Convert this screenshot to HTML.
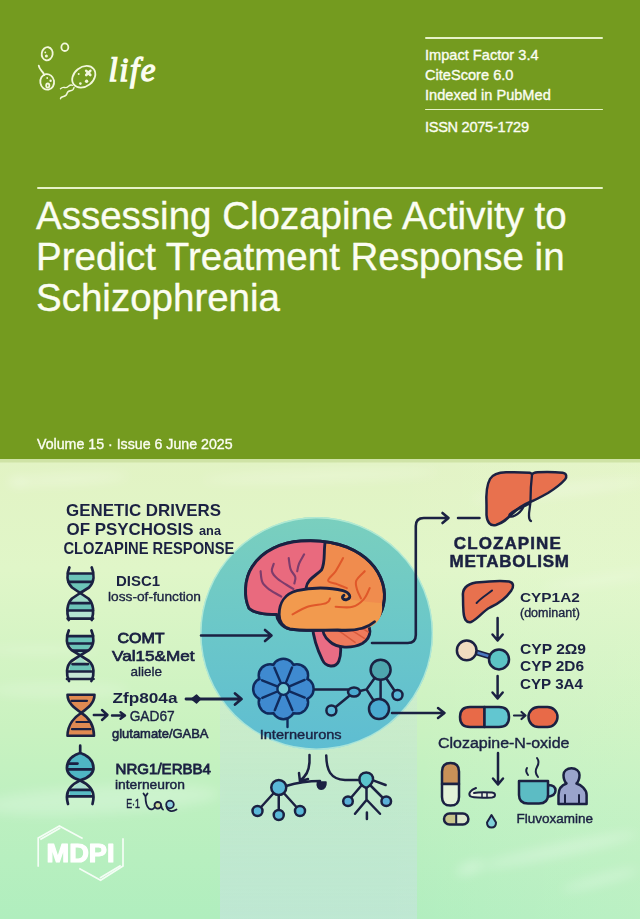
<!DOCTYPE html>
<html><head><meta charset="utf-8">
<style>
html,body{margin:0;padding:0;}
body{width:640px;height:919px;overflow:hidden;position:relative;font-family:"Liberation Sans",sans-serif;background:#dff0c8;}
.hdr{position:absolute;left:0;top:0;width:640px;height:459px;background:#749b1f;}
.t{position:absolute;white-space:nowrap;line-height:1;}
.w{color:#fbfdf2;-webkit-text-stroke:0.35px #fbfdf2;}
.rule{position:absolute;height:1.8px;background:#e6f2c8;border-radius:1px;}
svg{position:absolute;left:0;top:0;}
</style></head>
<body>
<div class="hdr"></div>
<svg width="640" height="919" viewBox="0 0 640 919" style="font-family:'Liberation Sans',sans-serif">
<defs>
<linearGradient id="bg" x1="0" y1="0" x2="0" y2="1">
<stop offset="0" stop-color="#e2f3c4"/>
<stop offset="0.24" stop-color="#e0f6c8"/>
<stop offset="0.59" stop-color="#c9f2c0"/>
<stop offset="0.74" stop-color="#bef0c0"/>
<stop offset="1" stop-color="#b0eebe"/>
</linearGradient>
<linearGradient id="bgh" x1="0" y1="0" x2="1" y2="0">
<stop offset="0" stop-color="#fff" stop-opacity="0"/>
<stop offset="0.6" stop-color="#fff" stop-opacity="0"/>
<stop offset="1" stop-color="#f4ffe0" stop-opacity="0.15"/>
</linearGradient>
<linearGradient id="circ" x1="0" y1="0" x2="0" y2="1">
<stop offset="0" stop-color="#7acfbe"/>
<stop offset="0.45" stop-color="#6cc8c8"/>
<stop offset="1" stop-color="#5ebdd2"/>
</linearGradient>
<filter id="blur3" x="-20%" y="-50%" width="140%" height="200%"><feGaussianBlur stdDeviation="3"/></filter>
<filter id="blur6" x="-20%" y="-50%" width="140%" height="200%"><feGaussianBlur stdDeviation="6"/></filter>
<linearGradient id="band" x1="0" y1="0" x2="0" y2="1">
<stop offset="0" stop-color="#c8dce8" stop-opacity="0.2"/>
<stop offset="0.5" stop-color="#c8dce8" stop-opacity="0.3"/>
<stop offset="1" stop-color="#d0e0ec" stop-opacity="0.45"/>
</linearGradient>
</defs>
<rect x="0" y="459" width="640" height="460" fill="url(#bg)"/>
<rect x="0" y="459" width="640" height="460" fill="url(#bgh)"/>
<rect x="0" y="459" width="640" height="3.5" fill="#cfe3a6"/>
<g fill="#ffffff" filter="url(#blur6)" opacity="0.8">
<ellipse cx="70" cy="479" rx="60" ry="5" opacity="0.35" transform="rotate(-3 70 479)"/>
<ellipse cx="18" cy="482" rx="10" ry="3" opacity="0.6"/>
<ellipse cx="320" cy="476" rx="120" ry="6" opacity="0.3" transform="rotate(-2 320 476)"/>
<ellipse cx="560" cy="490" rx="90" ry="5" opacity="0.35" transform="rotate(-6 560 490)"/>
<ellipse cx="600" cy="580" rx="60" ry="4" opacity="0.3" transform="rotate(-8 600 580)"/>
<ellipse cx="40" cy="650" rx="60" ry="4" opacity="0.25"/>
<ellipse cx="100" cy="800" rx="120" ry="14" opacity="0.28" transform="rotate(-3 100 800)"/>
<ellipse cx="60" cy="690" rx="70" ry="8" opacity="0.22"/>
<ellipse cx="560" cy="850" rx="80" ry="6" opacity="0.35" transform="rotate(-12 560 850)"/>
<ellipse cx="600" cy="880" rx="40" ry="4" opacity="0.4" transform="rotate(-15 600 880)"/>
<ellipse cx="470" cy="868" rx="14" ry="5" opacity="0.45" transform="rotate(-20 470 868)"/>
</g>
<rect x="220" y="640" width="197" height="279" fill="url(#band)"/>
<circle cx="316.6" cy="633.4" r="116.3" fill="url(#circ)"/>
<circle cx="316.6" cy="633.4" r="115.7" fill="none" stroke="#c8f4dc" stroke-width="1.4" opacity="0.7"/>
<g id="brain" stroke="#1b2142" stroke-linecap="round" stroke-linejoin="round" transform="translate(246 541) scale(1.02 1.035) translate(-246 -541)">
<path d="M311,622C312,636 317,648 321,656C324,663 334,664 337,657C340,650 339,640 337,630Z" fill="#e96c84" stroke-width="2.8"/>
<path d="M322,622C326,616 345,614 360,618C370,622 370,634 360,640C350,645 335,645 328,638C323,634 320,628 322,622Z" fill="#ef7a5c" stroke-width="2.8"/>
<path d="M333,625L353,639M340,621L362,635M349,619L366,629" fill="none" stroke="#d85a3c" stroke-width="1.4"/>
<path d="M249,606C244,596 244,578 252,566C262,550 282,542 300,541C315,540 330,541 345,547C362,554 375,566 380,582C384,596 381,610 372,619C364,626 350,628 336,627C320,627 300,628 289,626C280,624 276,616 276,612C265,612 254,611 249,606Z" fill="#f08c4e" stroke-width="2.8"/>
<path d="M249,606C244,596 244,578 252,566C262,550 282,542 300,541C310,540.5 318,541 323.5,542.5C322,552 324,562 320,569C314,575 306,578 305,586L305,591C296,592 284,596 280,611C266,612 254,611 249,606Z" fill="#e96a7e" stroke="none"/>
<path d="M323.5,542.5C322,552 324,562 320,569C314,575 306,578 305,586L305,589" fill="none" stroke-width="2.8"/>
<path d="M276,612C265,612 254,611 249,606C244,596 244,578 252,566C262,550 282,542 300,541C315,540 330,541 345,547C362,554 375,566 380,582C384,596 381,610 372,619" fill="none" stroke-width="2.8"/>
<path d="M279,615C277,603 283,592 296,589C310,585.5 328,585.5 341,589C347,591 349,596 344,597C352,598 366,600 379,601C381,611 377,620 368,624C355,628 335,627 320,627C305,628 292,628 286,625C282,623 279,619 279,615Z" fill="#f29a4e" stroke="none"/>
<path d="M372,619C364,626 350,628 336,627C320,627 300,628 289,626C282,624 278.5,619 278.5,612C278.5,601 284,592 296,589C310,585.5 328,585.5 341,589C348,591 350,596 345,597.5C341,598.5 339,595 342,593.5" fill="none" stroke-width="2.8"/>
<path d="M260.3,570.2C260.6,572.0 260.6,578.1 262.2,581.1C263.7,584.1 266.5,586.1 269.5,588.3C272.6,590.6 278.7,593.6 280.6,594.7M273.2,563.0C272.9,564.2 270.8,567.8 271.4,570.2C272.0,572.6 274.1,575.1 276.9,577.5C279.6,579.9 285.3,583.1 287.9,584.7C290.5,586.4 291.7,587.0 292.5,587.4M287.9,557.5C288.2,559.4 288.7,565.4 289.8,568.4C290.8,571.4 293.7,573.4 294.3,575.7C295.0,577.9 293.6,580.9 293.4,582.0M303.0,553.9C302.2,555.4 299.2,560.3 298.0,563.0C296.9,565.7 296.5,569.0 296.2,570.2" fill="none" stroke="#7e3c6c" stroke-width="2.1"/>
<path d="M341.2,557.5C340.0,559.7 336.3,566.6 333.9,570.2C331.4,573.9 326.2,577.2 326.5,579.3C326.8,581.4 332.6,581.7 335.7,582.9C338.8,584.1 343.4,585.9 344.9,586.5M362.4,570.2C361.0,571.7 355.3,576.3 354.1,579.3C352.9,582.3 354.2,585.5 355.0,588.3C355.8,591.2 358.1,595.1 358.7,596.5M291.6,611.9C294.0,610.7 300.8,606.5 306.3,604.6C311.8,602.8 321.0,602.4 324.7,601.0C328.4,599.7 327.7,597.2 328.4,596.5M333.9,604.6C336.6,604.6 345.8,605.9 350.4,604.6C355.0,603.4 358.6,600.4 361.4,597.4C364.3,594.4 366.3,588.3 367.3,586.5" fill="none" stroke="#e0582a" stroke-width="2"/>
</g>
<g id="flower" stroke="#102a5c" stroke-width="2.4" stroke-linecap="round" stroke-linejoin="round">
<path d="M287.5,718V727" fill="none"/>
<g fill="#3f8ad0" stroke-width="5"><circle cx="302.40" cy="688.90" r="10"/><circle cx="296.84" cy="702.34" r="10"/><circle cx="283.40" cy="707.90" r="10"/><circle cx="269.96" cy="702.34" r="10"/><circle cx="264.40" cy="688.90" r="10"/><circle cx="269.96" cy="675.46" r="10"/><circle cx="283.40" cy="669.90" r="10"/><circle cx="296.84" cy="675.46" r="10"/></g>
<g fill="#3f8ad0" stroke="none"><circle cx="302.40" cy="688.90" r="10"/><circle cx="296.84" cy="702.34" r="10"/><circle cx="283.40" cy="707.90" r="10"/><circle cx="269.96" cy="702.34" r="10"/><circle cx="264.40" cy="688.90" r="10"/><circle cx="269.96" cy="675.46" r="10"/><circle cx="283.40" cy="669.90" r="10"/><circle cx="296.84" cy="675.46" r="10"/><circle cx="283.4" cy="688.9" r="18"/></g>
<path d="M288.96,691.15L304.73,697.52 M285.74,694.42L292.39,710.07 M281.15,694.46L274.78,710.23 M277.88,691.24L262.23,697.89 M277.84,686.65L262.07,680.28 M281.06,683.38L274.41,667.73 M285.65,683.34L292.02,667.57 M288.92,686.56L304.57,679.91" fill="none"/>
<circle cx="283.4" cy="688.9" r="6" fill="#74cad4"/>
</g>
<g id="network" stroke="#1b2142" stroke-width="2.5" stroke-linecap="round" stroke-linejoin="round" fill="none">
<path d="M315,689.5H348M331.4,710.5L354,692M360,691L366.5,689.4L380.6,669.7M366.5,689.4L379,709M380.6,669.7V709M386,678L397.5,695"/>
<ellipse cx="354" cy="692" rx="6" ry="4.5" fill="#4aaad0"/>
<circle cx="331.4" cy="710.5" r="5" fill="#5ab8d8"/>
<circle cx="397.5" cy="695" r="5" fill="#5ab8d8"/>
<circle cx="380.6" cy="669.7" r="10" fill="#4ea6ae"/>
<circle cx="379" cy="709" r="10" fill="#4aaad0"/>
</g>
<g id="trees" stroke="#1b2142" stroke-width="2.5" stroke-linecap="round" stroke-linejoin="round" fill="none">
<path d="M309.5,755C310,764 309,772 304,777L300,781M299,773L300,781.5L308,779"/>
<path d="M286,786C296,783 308,781 320,781"/>
<path d="M317.5,782H326C326.5,786.5 324,789.3 321.2,789.3C318.2,789.3 316.5,786 317.5,782Z" fill="#1b2142" stroke-width="1.5"/>
<path d="M278.75,787.5L257.5,811M278.75,787.5V815M278.75,787.5L300,811"/>
<circle cx="278.75" cy="787.5" r="7.5" fill="#5ab8d8"/>
<circle cx="257.5" cy="811" r="5" fill="#5ab8d8"/>
<circle cx="278.75" cy="815" r="5" fill="#5ab8d8"/>
<circle cx="300" cy="811" r="5" fill="#5ab8d8"/>
<path d="M326.25,755.6C326.5,770 330,779 345,780H359"/>
<path d="M373.75,780.6L385.6,785M361,786L348,801.25M371,786L386.25,801.25M366.5,786V800L355,813.75M366.9,800L380,813.75M366.9,812.5V819"/>
<path d="M366.25,772.5C371,772.5 373.5,776 373,780C372,784 368,787 366.25,788C364,787 359.5,784 359.5,780C359,776 361.5,772.5 366.25,772.5Z" fill="#5ac4cc"/>
<circle cx="348" cy="801.25" r="4.8" fill="#5ab0d8"/>
<circle cx="386.25" cy="801.25" r="4.8" fill="#5ab0d8"/>
</g>
<g id="meta" stroke="#1b2142" stroke-width="2.5" stroke-linecap="round" stroke-linejoin="round">
<!-- big liver -->
<path d="M486.5,505C486,495 486,486 490,479C493,474 499,472.5 506,472.3C515,472 524,472.3 529.7,472.8Q532,473.5 532,474.5Q533,472.5 537.5,472.2C546,471.8 556,472 562.5,472.8C567,473.5 567,477 565,479.5C561,484 556,488 548,493C540,497.5 534,500.5 530,502C524,504.5 518,508 512,514C507,519 503,523 496,525C490,526.5 487,522 486.5,515Z" fill="#e8714e"/>
<path d="M532,475C531,483 530.5,492 530.5,500C530.5,507 528.5,512 529,516C529,519 530,520.5 531,521M528,504.5C522,507 514,510 510,514C508,516.5 511,517.5 515,515.5C519,513.5 522,510 524,506" fill="none" stroke-width="2.3"/>
<!-- small liver -->
<path d="M463,597C462,589 467,584 476,582.5C490,581 503,580.5 509,581.5C514,582.5 514,587 511,591C506,598 498,604 490,607.5C483,611 478,619 471,622C466,623 464,619 463.5,612C463,606 463,602 463,597Z" fill="#e8714e"/>
<path d="M476.6,603C482,597 488,594 492,590.5" fill="none" stroke-width="2"/>
<!-- arrows down -->
<path d="M497.6,618V640M492.5,634.5L497.6,640.5L502.7,634.5M497.6,676V698M492.5,692.5L497.6,698.5L502.7,692.5M498,753V784M493,778.5L498,784.5L503,778.5" fill="none"/>
<!-- two circles -->
<path d="M475,652L490,656.5" stroke-width="6"/>
<path d="M475,652L490,656.5" stroke="#4a78c0" stroke-width="2.5"/>
<circle cx="466.7" cy="650.4" r="9.8" fill="#f0dcc0"/>
<circle cx="499" cy="659.4" r="10" fill="#5cc4c4"/>
<!-- pill 1 -->
<path d="M484.5,707H470Q460,707 460,717Q460,727 470,727H484.5Z" fill="#e86a48"/>
<path d="M484.5,707H499Q509,707 509,717Q509,727 499,727H484.5Z" fill="#62c6d0"/>
<path d="M514,715.5H525M521.5,712L525.5,715.5L521.5,719" fill="none" stroke-width="2.2"/>
<rect x="528.5" y="707" width="29" height="20" rx="10" fill="#e86a48"/>
<!-- vertical capsule -->
<path d="M442,784V771.5Q442,763 450.5,763Q459,763 459,771.5V784Z" fill="#c89058"/>
<path d="M442,784V797Q442,805.6 450.5,805.6Q459,805.6 459,797V784Z" fill="#e2f2d8"/>
<!-- small pill -->
<path d="M456.2,813.4H449.5Q444,813.4 444,818.9Q444,824.4 449.5,824.4H456.2Z" fill="#c8c48c" stroke="none"/>
<path d="M456.2,813.4H463Q468.4,813.4 468.4,818.9Q468.4,824.4 463,824.4H456.2Z" fill="#dce8cc" stroke="none"/>
<rect x="444" y="813.4" width="24.4" height="11" rx="5.5" fill="none"/>
<path d="M456.2,815V823" fill="none" stroke-width="2"/>
<!-- cigarette -->
<path d="M476,788C471,790 468,793 470,796C472,798 480,798 492,797.5C496,797 496,793 492,792.5C485,792 478,792 474,793" fill="#e8f0e0" stroke-width="2"/>
<path d="M482,793V797M487,793V797" fill="none" stroke-width="1.5"/>
<!-- drop -->
<path d="M491.5,815L496,822.5Q496,827.5 491.5,827.5Q487,827.5 487,822.5Z" fill="#80d0d8" stroke-width="2"/>
<!-- cup -->
<path d="M548,785Q555.5,785 555.5,790.5Q555.5,796 547,797Z" fill="#8ad4d8"/>
<path d="M519,781H548V795Q548,803.5 539,803.5H528Q519,803.5 519,795Z" fill="#5cbcc4"/>
<path d="M527,768Q525,771 528,775M537,758Q540,762 537,767Q534,772 538,777" fill="none" stroke-width="2"/>
<!-- person -->
<path d="M558.5,804V795C558.5,789 562,785 566.5,783.5C564,781 563.5,777 563.5,775C563.5,771 567,768.3 571.5,768.3C576,768.3 579.5,771 579.5,775C579.5,777 579,781 576.5,783.5C581,785 586.6,789 586.6,795V804Z" fill="#9aa4cc"/>
<path d="M565,795V804M579,795V804" fill="none" stroke-width="2"/>
</g>
<!-- MDPI logo -->
<g stroke="#ffffff" stroke-width="1.7" fill="none" stroke-linecap="square" opacity="0.85">
<path d="M38.2,866V838L59.4,826L81.9,838"/>
<path d="M41,839L59.5,828.5"/>
<path d="M123,839V866L100.6,880.3L80,869"/>
<path d="M120,866L100.6,877.5"/>
</g>
<text x="46.5" y="862" font-size="25" font-weight="bold" fill="#ffffff" stroke="#ffffff" stroke-width="1.1" stroke-linejoin="round" textLength="68" lengthAdjust="spacingAndGlyphs">MDPI</text>
<g id="icons" stroke="#1b2142" stroke-linecap="round" stroke-linejoin="round">
<!-- DNA 1 -->
<g stroke-width="2.7">
<path d="M68,573.5H92.5V581.9H68Z" fill="#6cc4b8" stroke="none"/>
<path d="M68,581.9H92.5C90,588 85,591 80.2,593C75,591 70,588 68,581.9Z" fill="#6cc4b8" stroke="none"/>
<path d="M80.2,593C85,596 88,599 90,603.1H70.5C72,599 75,596 80.2,593Z" fill="#a0dcc8" stroke="none"/>
<path d="M68,603.1H92.5V610.5H68Z" fill="#6cc4b8" stroke="none"/>
<path d="M67.6,610.5H93V618.6H67.6Z" fill="#b4e2d2" stroke="none"/>
<path d="M69.4,567.4C66.5,574 66.5,582 72,587.5L80.2,593L88.4,598.5C94,604 94,613 91.7,620" fill="none"/>
<path d="M91.7,567.4C94.5,574 94.5,582 89,587.5L80.2,593L72,598.5C66.5,604 66.5,613 68.8,620" fill="none"/>
<path d="M68,573.5H92.5M68.5,581.9H92M70.5,603.1H90M67.6,610.5H93M67.6,618.6H93" fill="none"/>
</g>
<!-- DNA 2 -->
<g stroke-width="2.7">
<path d="M67.5,636.1H93V643.5H67.5Z" fill="#6cc4b8" stroke="none"/>
<path d="M68.5,643.5H92C90,647 88,649 86,650.6H74.5C72.5,649 70.5,647 68.5,643.5Z" fill="#6cc4b8" stroke="none"/>
<path d="M74.5,650.6H86L80.2,655.3Z" fill="#a0dcc8" stroke="none"/>
<path d="M80.2,655.3L87,664.1H73.5Z" fill="#a0dcc8" stroke="none"/>
<path d="M69.5,664.1H91V671.5H69.5Z" fill="#6cc4b8" stroke="none"/>
<path d="M67,671.5H93.5V679H67Z" fill="#c4e6d6" stroke="none"/>
<path d="M68.8,630.4C65.8,637 65.8,645 71.5,650L80.2,655.3L89,661C94.5,666 94.5,675 91.4,681" fill="none"/>
<path d="M91.4,630.4C94.4,637 94.4,645 89,650L80.2,655.3L71.5,661C66,666 66,675 69,681" fill="none"/>
<path d="M67.5,636.1H93M68.5,643.5H92M73.5,650.6H87M72.5,664.1H88M68,671.5H92.5M67,679H93.5" fill="none"/>
</g>
<!-- DNA 3 orange -->
<g stroke-width="2.6">
<path d="M67.5,694.8H94.5C94.5,703 88,708 81.3,712.8C74.5,708 67.5,703 67.5,694.8Z" fill="#e08a52"/>
<path d="M81.3,712.8C88,717 94,725 94,735.8H67.5C67.5,725 74.5,717 81.3,712.8Z" fill="#e08a52"/>
<path d="M71.5,700.8H87M76.4,722H89.5M72,729.2H90.6" fill="none" stroke-width="2.2"/>
<path d="M93.8,715H107M102,710L107.5,715L102,720M112,715.5H124.5M120.5,712.3L125,715.5L120.5,718.7" fill="none" stroke-width="2.4"/>
</g>
<!-- DNA 4 -->
<g stroke-width="2.7">
<path d="M80.2,753C87,755 93.5,760 93.5,768C93.5,774 88,778 80.2,780.4C72.5,778 66.9,774 66.9,768C66.9,760 73,755 80.2,753Z" fill="#4fb6c4"/>
<path d="M80.2,780.4L89,789.9H71.5Z" fill="#a8dcd0" stroke="none"/>
<path d="M69.5,789.9H91V796.4H69.5Z" fill="#58bcc4" stroke="none"/>
<path d="M80.2,780.4C88,784 93.5,790 93.5,797C93.5,800 93,802 92.5,804" fill="none"/>
<path d="M80.2,780.4C72.5,784 66.9,790 66.9,797C66.9,800 67.5,802 68,804" fill="none"/>
<path d="M80.2,745.7V753M68.4,763.6H77.5M67.5,769.3H93M70.5,789.9H90M68,796.4H92.5" fill="none"/>
</g>
<!-- E1 squiggle -->
<path d="M143.5,793.5L145.5,796.5L147.5,793.5M145.5,796.5C145.5,801 146,806 149,808.5C151,810 153,809.5 154.5,807.5" fill="none" stroke-width="1.8"/>
<circle cx="157.8" cy="805.3" r="3.3" fill="#d4e0a0" stroke-width="1.8"/>
<path d="M161.1,805.5C161.5,807.5 162,809 163,809.5" fill="none" stroke-width="1.8"/>
<circle cx="170" cy="804.5" r="3.8" fill="#8fd0e0" stroke-width="1.8"/>
<path d="M166.5,806.5C167.5,811 172,812.5 176.5,809.5" fill="none" stroke-width="1.8"/>
<!-- arrows -->
<path d="M201,635.5H271M265,630L271.5,635.5L265,641" fill="none" stroke-width="2.6"/>
<path d="M186,699H241M235,693.5L241.5,699L235,704.5" fill="none" stroke-width="2.8"/><path d="M191.5,699L196.5,695L200.5,699L196.5,703Z" fill="#1b2142" stroke-width="1.5"/>
<path d="M392,713H444M438,708L444.5,713L438,718" fill="none" stroke-width="2.5"/>
<path d="M372,643H407.8Q415.8,643 415.8,635V526Q415.8,518 423.8,518H448M442.5,513L448.5,518L442.5,523" fill="none" stroke-width="2.6"/>
<path d="M458,518H479.5" fill="none" stroke-width="2.5"/>
</g>
<g fill="#1b2142">
<text x="66" y="515.8" font-size="16.5" font-weight="bold" textLength="155" lengthAdjust="spacingAndGlyphs">GENETIC DRIVERS</text>
<text x="66.5" y="535" font-size="16.5" font-weight="bold" textLength="127" lengthAdjust="spacingAndGlyphs">OF PSYCHOSIS</text>
<text x="199" y="535" font-size="12" font-weight="bold" textLength="22" lengthAdjust="spacingAndGlyphs">ana</text>
<text x="63.4" y="554" font-size="16.5" font-weight="bold" textLength="171" lengthAdjust="spacingAndGlyphs">CLOZAPINE RESPONSE</text>
<text x="116" y="586" font-size="14" font-weight="bold" textLength="44" lengthAdjust="spacingAndGlyphs">DISC1</text>
<text x="108" y="600.8" font-size="13" stroke="#1b2142" stroke-width="0.35" textLength="93" lengthAdjust="spacingAndGlyphs">loss-of-function</text>
<text x="117.5" y="642.5" font-size="15.5" stroke="#1b2142" stroke-width="0.9" textLength="47" lengthAdjust="spacingAndGlyphs">COMT</text>
<text x="112" y="660.5" font-size="15" stroke="#1b2142" stroke-width="0.7" textLength="82.5" lengthAdjust="spacingAndGlyphs">Val15&amp;Met</text>
<text x="130.5" y="676" font-size="13" stroke="#1b2142" stroke-width="0.35" textLength="31.5" lengthAdjust="spacingAndGlyphs">aliele</text>
<text x="112.5" y="703.3" font-size="15" font-weight="bold" textLength="65" lengthAdjust="spacingAndGlyphs">Zfp804a</text>
<text x="129.7" y="720.6" font-size="15" stroke="#1b2142" stroke-width="0.4" textLength="45" lengthAdjust="spacingAndGlyphs">GAD67</text>
<text x="112" y="737.8" font-size="13.5" stroke="#1b2142" stroke-width="0.6" textLength="96.5" lengthAdjust="spacingAndGlyphs">glutamate/GABA</text>
<text x="115.6" y="773.8" font-size="15" stroke="#1b2142" stroke-width="0.8" textLength="95.4" lengthAdjust="spacingAndGlyphs">NRG1/ERBB4</text>
<text x="115" y="789.4" font-size="13.5" stroke="#1b2142" stroke-width="0.45" textLength="70" lengthAdjust="spacingAndGlyphs">interneuron</text>
<text x="126.2" y="807.5" font-size="12.5" stroke="#1b2142" stroke-width="0.5" textLength="13.8" lengthAdjust="spacingAndGlyphs">E·1</text>
<text x="259.7" y="738.6" font-size="13.5" stroke="#1b2142" stroke-width="0.4" textLength="82" lengthAdjust="spacingAndGlyphs">Interneurons</text>
<text x="453.8" y="549" font-size="17" font-weight="bold" stroke="#1b2142" stroke-width="0.5" textLength="107" lengthAdjust="spacing">CLOZAPINE</text>
<text x="449.5" y="566.6" font-size="17" font-weight="bold" stroke="#1b2142" stroke-width="0.5" textLength="119.5" lengthAdjust="spacing">METABOLISM</text>
<text x="520" y="601.7" font-size="13" font-weight="bold" textLength="59.8" lengthAdjust="spacingAndGlyphs">CYP1A2</text>
<text x="520" y="616.6" font-size="12" stroke="#1b2142" stroke-width="0.35" textLength="59.8" lengthAdjust="spacingAndGlyphs">(dominant)</text>
<text x="520" y="653.8" font-size="14" font-weight="bold" textLength="66" lengthAdjust="spacingAndGlyphs">CYP 2Ω9</text>
<text x="520" y="670.6" font-size="14" font-weight="bold" textLength="64" lengthAdjust="spacingAndGlyphs">CYP 2D6</text>
<text x="520" y="689" font-size="14" font-weight="bold" textLength="63" lengthAdjust="spacingAndGlyphs">CYP 3A4</text>
<text x="438" y="747.8" font-size="14" stroke="#1b2142" stroke-width="0.4" textLength="131.4" lengthAdjust="spacingAndGlyphs">Clozapine-N-oxide</text>
<text x="516.5" y="822.5" font-size="13" stroke="#1b2142" stroke-width="0.4" textLength="76.5" lengthAdjust="spacingAndGlyphs">Fluvoxamine</text>
</g>
</svg>

<div class="rule" style="left:425px;top:36.8px;width:178px;"></div>
<div class="t w" style="left:425px;top:48.2px;font-size:14.6px;">Impact Factor 3.4</div>
<div class="t w" style="left:425px;top:68.2px;font-size:14.6px;">CiteScore 6.0</div>
<div class="t w" style="left:425px;top:88.2px;font-size:14.6px;">Indexed in PubMed</div>
<div class="rule" style="left:425px;top:108.6px;width:178px;"></div>
<div class="t w" style="left:425px;top:120px;font-size:14.6px;letter-spacing:-0.3px;">ISSN 2075-1729</div>
<div class="rule" style="left:37px;top:187.3px;width:566px;"></div>
<div class="t w" style="left:36px;top:194.8px;font-size:38.5px;line-height:41.2px;">Assessing Clozapine Activity to<br>Predict Treatment Response in<br>Schizophrenia</div>
<div class="t w" style="left:37px;top:437.3px;font-size:14.2px;">Volume 15 · Issue 6 June 2025</div>

<svg width="640" height="120" viewBox="0 0 640 120" style="position:absolute;left:0;top:0">
<g stroke="#f2f7dc" stroke-width="1.8" fill="none" stroke-linecap="round">
<ellipse cx="47.2" cy="53.75" rx="5.5" ry="6.6" transform="rotate(10 47.2 53.75)"/>
<ellipse cx="64.85" cy="47.2" rx="3.5" ry="3.8"/>
<ellipse cx="47.2" cy="81.9" rx="6.9" ry="7.8" transform="rotate(-10 47.2 81.9)"/>
<path d="M38.75,65.6C39,68 41,70 42.5,72C43.5,73 44,74 44.2,75"/>
<ellipse cx="47.75" cy="85.6" rx="1.6" ry="2.1"/>
<ellipse cx="83.75" cy="76.8" rx="12.6" ry="9.6" transform="rotate(-38 83.75 76.8)"/>
<path d="M72.5,85.3Q70.5,84.5 68.5,86.3T64.5,87.5T60.5,88.8" stroke-width="1.4"/>
<path d="M74,87.5Q73.5,90.5 70.5,90.8T67,93.5T63.5,96.5T60.5,98.8" stroke-width="1.4"/>
<path d="M86.2,70.8L90.3,75M90.3,70.8L86.2,75" stroke-width="2.6"/>
</g>
<g fill="#f2f7dc">
<circle cx="45.3" cy="52.4" r="0.9"/><circle cx="46.4" cy="56" r="1.5"/>
<circle cx="47.2" cy="78" r="0.9"/><circle cx="50.6" cy="80.75" r="1.2"/>
<circle cx="78.7" cy="74" r="1"/><circle cx="80.4" cy="83.6" r="1.3"/><circle cx="86.6" cy="81.3" r="1.7"/>
</g>
</svg>
<div class="t w" style="left:108.5px;top:54.3px;font-size:33px;font-family:'Liberation Serif',serif;font-style:italic;font-weight:normal;-webkit-text-stroke:1.3px #fbfdf0;color:#fbfdf0;letter-spacing:1.6px;">life</div>
</body></html>
